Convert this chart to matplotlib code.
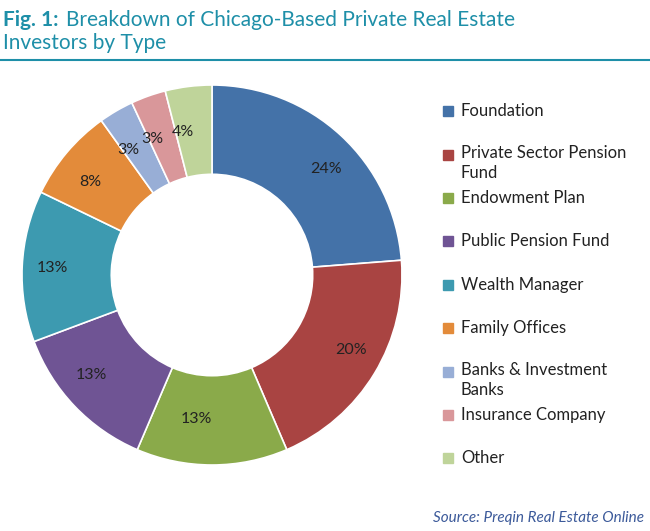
import matplotlib.pyplot as plt

categories = ["Foundation", "Private Sector Pension\nFund", "Endowment Plan",
              "Public Pension Fund", "Wealth Manager", "Family Offices",
              "Banks & Investment\nBanks", "Insurance Company", "Other"]
values = [24, 20, 13, 13, 13, 8, 3, 3, 4]
colors = ["#4472A8", "#A94442", "#8AAA4A", "#6F5494", "#3D9AB0",
          "#E38B3A", "#98AED6", "#D9979A", "#BFD49A"]

W, H = 650, 531
fig = plt.figure(figsize=(W / 100, H / 100), dpi=100)
plt.rcParams['font.family'] = ['Lato', 'DejaVu Sans']

teal = "#1E8FA8"
fig.text(3 / W, 1 - 20 / H, "Fig. 1:", color=teal, fontsize=15, fontweight='bold', va='center')
fig.text(66 / W, 1 - 20 / H, "Breakdown of Chicago-Based Private Real Estate", color=teal, fontsize=15, va='center')
fig.text(3 / W, 1 - 43 / H, "Investors by Type", color=teal, fontsize=15, va='center')
fig.add_artist(plt.Line2D([0, 1], [1 - 60 / H, 1 - 60 / H], color=teal, lw=1.5))

cx, cy, r = 212, 275, 190
ax = fig.add_axes([(cx - r) / W, (H - cy - r) / H, 2 * r / W, 2 * r / H])
wedges, texts = ax.pie(values, colors=colors, startangle=90, counterclock=False,
                       wedgeprops=dict(width=0.47, edgecolor='white', linewidth=1.2),
                       labels=[f"{v}%" for v in values], labeldistance=0.76,
                       textprops=dict(fontsize=11.5, color='#222222'))
ax.set_xlim(-1, 1)
ax.set_ylim(-1, 1)
ax.set_aspect('equal')

legend_y = [111, 155, 198, 241, 285, 328, 372, 415, 458]
for name, col, y in zip(categories, colors, legend_y):
    fig.patches.append(plt.Rectangle((443 / W, 1 - (y + 5) / H), 10 / W, 10 / H,
                                     transform=fig.transFigure, color=col))
    two = '\n' in name
    fig.text(461 / W, 1 - (y - 10) / H if two else 1 - y / H, name, fontsize=12,
             color='#222222', va='top' if two else 'center', linespacing=1.3)

fig.text(644 / W, 1 - 518 / H, "Source: Preqin Real Estate Online", fontsize=11,
         style='italic', color='#3C5A9A', ha='right', va='center')

fig.savefig("out.png", dpi=100)
